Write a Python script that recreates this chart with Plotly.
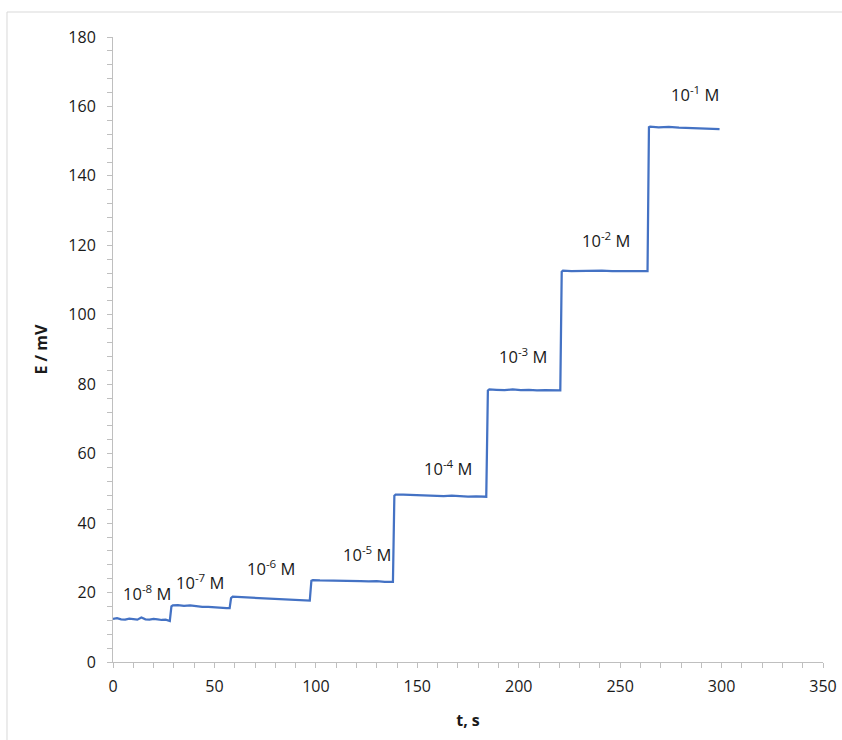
import plotly.graph_objects as go

# Potential-time trace recorded during successive concentration additions
t_s = [0, 2, 4, 6, 8, 10, 12, 14, 16, 18, 20, 22, 24, 26, 28,
       28.8, 29.5, 32, 35, 38, 41, 44, 47, 50, 53, 56, 57.5,
       58.2, 59, 62, 66, 70, 74, 78, 82, 86, 90, 94, 97,
       97.8, 98.5, 102, 106, 110, 114, 118, 122, 126, 130, 134, 138,
       138.7, 139.3, 143, 147, 151, 155, 159, 163, 167, 171, 175, 179, 184,
       184.8, 185.5, 189, 193, 197, 201, 205, 209, 213, 217, 220.5,
       221.2, 221.8, 226, 231, 236, 241, 246, 251, 256, 260, 263.5,
       264.2, 264.8, 269, 274, 279, 284, 289, 294, 299]
E_mV = [12.4, 12.6, 12.3, 12.2, 12.5, 12.3, 12.2, 12.8, 12.3, 12.2, 12.4, 12.3, 12.1, 12.2, 11.8,
        16.0, 16.3, 16.4, 16.2, 16.3, 16.0, 15.9, 15.9, 15.7, 15.6, 15.5, 15.5,
        18.4, 18.8, 18.7, 18.6, 18.5, 18.5, 18.3, 18.2, 18.0, 17.9, 17.8, 17.7,
        23.4, 23.6, 23.5, 23.5, 23.4, 23.5, 23.3, 23.3, 23.2, 23.3, 23.1, 23.1,
        47.9, 48.2, 48.2, 48.1, 48.0, 48.1, 47.9, 47.8, 47.9, 47.7, 47.6, 47.7, 47.6,
        78.2, 78.5, 78.4, 78.3, 78.5, 78.3, 78.4, 78.2, 78.3, 78.2, 78.2,
        112.4, 112.7, 112.6, 112.7, 112.6, 112.7, 112.6, 112.6, 112.5, 112.6, 112.6,
        154.0, 154.2, 154.0, 154.1, 153.9, 153.8, 153.7, 153.6, 153.5]

# Concentration labels and where they sit
conc_labels = ["10<sup>-8</sup> M", "10<sup>-7</sup> M", "10<sup>-6</sup> M", "10<sup>-5</sup> M",
               "10<sup>-4</sup> M", "10<sup>-3</sup> M", "10<sup>-2</sup> M", "10<sup>-1</sup> M"]
label_t = [17, 43, 78, 125, 165, 202, 243, 287]
label_E = [20, 23, 27, 31, 56, 88, 121.5, 163.5]

FONT = "'Open Sans', sans-serif"
TXT = "#1a1a1a"
AXC = "#BFBFBF"

fig = go.Figure()
fig.add_trace(go.Scatter(x=t_s, y=E_mV, mode="lines",
                         line=dict(color="#4472C4", width=2.25),
                         showlegend=False, hoverinfo="skip"))

for lab, tx, ey in zip(conc_labels, label_t, label_E):
    fig.add_annotation(x=tx, y=ey, text=lab, showarrow=False,
                       font=dict(family=FONT, size=16.5, color=TXT))

fig.update_layout(
    width=842, height=740,
    margin=dict(l=113, r=19, t=37, b=78, autoexpand=False),
    paper_bgcolor="white", plot_bgcolor="white",
    font=dict(family=FONT, size=16, color=TXT),
    shapes=[dict(type="rect", xref="paper", yref="paper",
                 x0=-0.1493, x1=1.2, y0=-0.3, y1=1.04,
                 line=dict(color="#D9D9D9", width=1))],
)
fig.update_xaxes(range=[0, 350], dtick=50, showgrid=False, zeroline=False,
                 automargin=False,
                 showline=True, linecolor=AXC, linewidth=1,
                 ticks="outside", ticklen=5, tickcolor=AXC,
                 ticklabelstandoff=5,
                 minor=dict(dtick=10, ticks="outside", ticklen=5, tickcolor=AXC),
                 tickfont=dict(family=FONT, size=16, color=TXT),
                 title=dict(text="<b>t, s</b>", standoff=18,
                            font=dict(family=FONT, size=16, color=TXT)))
fig.update_yaxes(range=[0, 180], dtick=20, showgrid=False, zeroline=False,
                 automargin=False,
                 showline=True, linecolor=AXC, linewidth=1,
                 ticks="outside", ticklen=5, tickcolor=AXC,
                 ticklabelstandoff=8,
                 minor=dict(dtick=4, ticks="outside", ticklen=5, tickcolor=AXC),
                 tickfont=dict(family=FONT, size=16, color=TXT),
                 title=dict(text="<b>E / mV</b>", standoff=16,
                            font=dict(family=FONT, size=16, color=TXT)))

fig.write_html("out.html")
